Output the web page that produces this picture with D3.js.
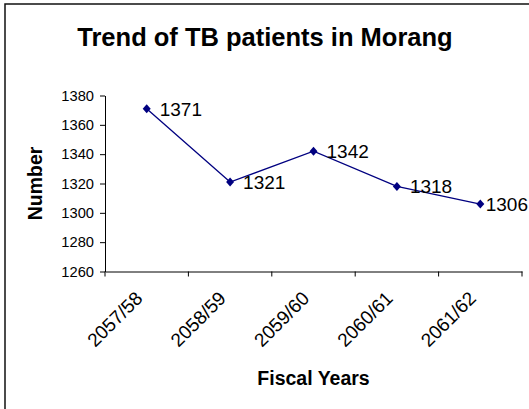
<!DOCTYPE html>
<html>
<head>
<meta charset="utf-8">
<script src="https://cdn.jsdelivr.net/npm/d3@7"></script>
<style>
    body { margin: 0; background: #fff; }
    svg { display: block; font-family: "Liberation Sans", Arial, sans-serif; }
    .axis path, .axis line { stroke: #000; }
</style>
</head>
<body>
<svg></svg>
<script>
const years = ["2057/58", "2058/59", "2059/60", "2060/61", "2061/62"];
const patients = [1371, 1321, 1342, 1318, 1306];
const yTicks = [1260, 1280, 1300, 1320, 1340, 1360, 1380];

function drawChart() {
    const width = 529;
    const height = 409;

    const svg = d3.select('svg')
        .attr('width', width)
        .attr('height', height);

    // outer frame (runs off the right and bottom edge)
    svg.append('rect')
        .attr('x', 5)
        .attr('y', 4)
        .attr('width', width + 10)
        .attr('height', height + 10)
        .attr('fill', '#fff')
        .attr('stroke', '#111')
        .attr('stroke-width', 1.5);

    svg.append('text')
        .attr('x', 265)
        .attr('y', 45.5)
        .attr('text-anchor', 'middle')
        .style('font-size', '25.5px')
        .style('font-weight', 'bold')
        .text('Trend of TB patients in Morang');

    const left = 105, right = 522, top = 95.5, bottom = 271.5;

    const xScale = d3.scaleBand()
        .range([left, right])
        .domain(years)
        .padding(0);

    const yScale = d3.scaleLinear()
        .range([bottom, top])
        .domain([1260, 1380]);

    // y axis
    const yAxis = svg.append('g')
        .attr('class', 'axis')
        .attr('transform', `translate(${left}, 0)`)
        .call(d3.axisLeft(yScale).tickValues(yTicks).tickFormat(d3.format('d'))
            .tickSize(5).tickSizeOuter(0).tickPadding(6));
    yAxis.selectAll('text')
        .style('font-size', '14.7px')
        .style('font-family', '"Liberation Sans", Arial, sans-serif')
        .attr('fill', '#000');

    // x axis (labels), tick marks sit on category boundaries
    const xAxis = svg.append('g')
        .attr('class', 'axis')
        .attr('transform', `translate(0, ${bottom})`)
        .call(d3.axisBottom(xScale).tickSize(0).tickSizeOuter(0).tickPadding(0));
    xAxis.selectAll('text')
        .style('font-size', '19px')
        .style('font-family', '"Liberation Sans", Arial, sans-serif')
        .attr('fill', '#000')
        .style('text-anchor', 'end')
        .attr('dy', 0)
        .attr('transform', 'translate(-3, 28) rotate(-45)');

    const bounds = years.map(d => xScale(d)).concat(xScale(years[years.length - 1]) + xScale.bandwidth());
    svg.append('g')
        .selectAll('line')
        .data(bounds)
        .enter()
        .append('line')
        .attr('x1', d => d)
        .attr('x2', d => d)
        .attr('y1', bottom)
        .attr('y2', bottom + 5)
        .attr('stroke', '#000');

    // axis titles
    svg.append('text')
        .attr('transform', `translate(42, ${(top + bottom) / 2}) rotate(-90)`)
        .attr('text-anchor', 'middle')
        .style('font-size', '19.5px')
        .style('font-weight', 'bold')
        .text('Number');

    svg.append('text')
        .attr('x', (left + right) / 2)
        .attr('y', 385)
        .attr('text-anchor', 'middle')
        .style('font-size', '19.5px')
        .style('font-weight', 'bold')
        .text('Fiscal Years');

    const cx = (d, i) => xScale(years[i]) + xScale.bandwidth() / 2;

    const line = d3.line()
        .x((d, i) => cx(d, i))
        .y(d => yScale(d));

    svg.append('path')
        .datum(patients)
        .attr('d', line)
        .attr('fill', 'none')
        .attr('stroke', '#000080')
        .attr('stroke-width', 1.3);

    svg.selectAll('.marker')
        .data(patients)
        .enter()
        .append('path')
        .attr('class', 'marker')
        .attr('transform', (d, i) => `translate(${cx(d, i)}, ${yScale(d)})`)
        .attr('d', 'M0,-4.5L4,0L0,4.5L-4,0Z')
        .attr('fill', '#000080');

    // data labels, pushed left when they would run off the frame
    svg.selectAll('.vlabel')
        .data(patients)
        .enter()
        .append('text')
        .attr('class', 'vlabel')
        .attr('y', d => yScale(d))
        .attr('dy', '0.36em')
        .style('font-size', '19px')
        .text(d => d)
        .attr('x', function (d, i) {
            const w = this.getComputedTextLength();
            return Math.min(cx(d, i) + 13, width - w - 1);
        });
}

drawChart();
</script>
</body>
</html>
